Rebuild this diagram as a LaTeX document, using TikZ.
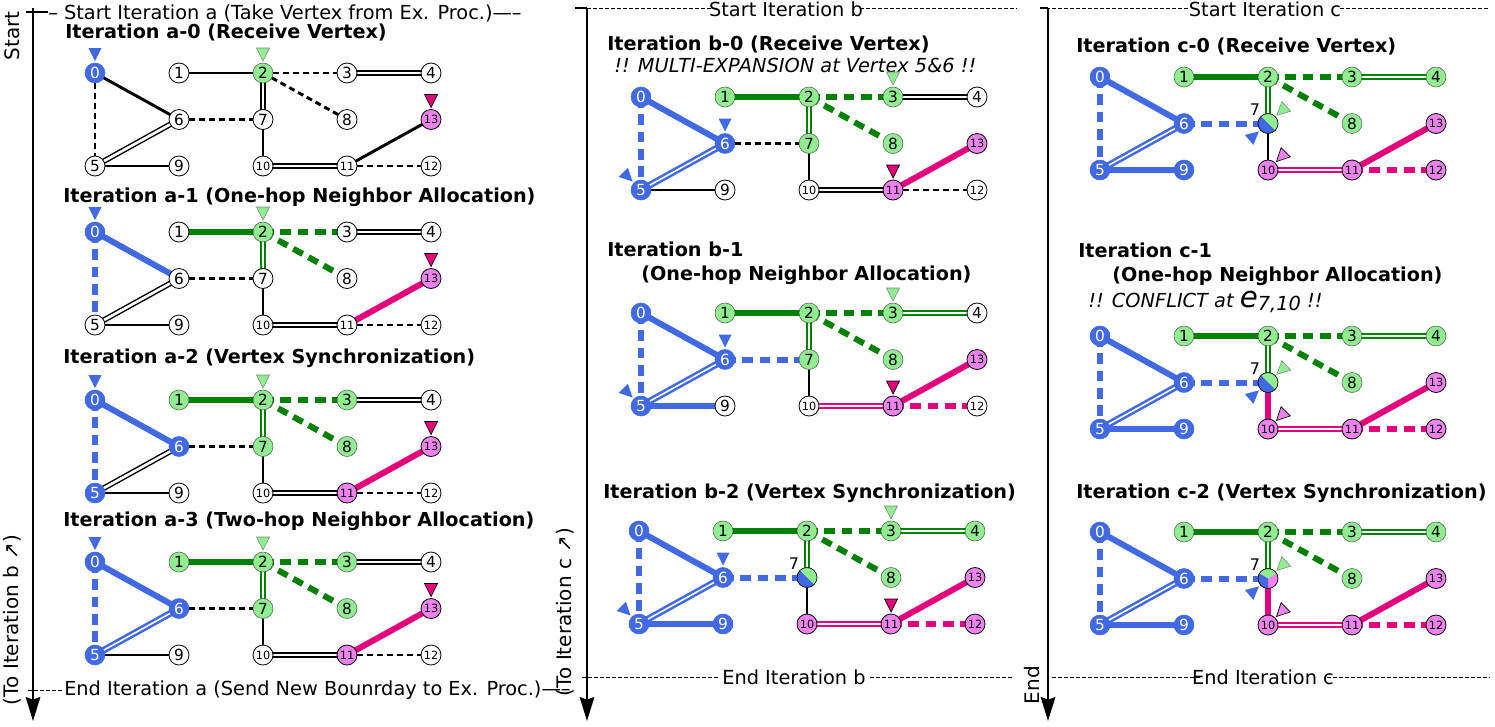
\documentclass[tikz,border=0pt]{standalone}
\usepackage{fontspec}
\setmainfont{DejaVu Sans}[Ligatures=NoCommon]
\usetikzlibrary{arrows.meta}
\pgfdeclarelayer{bg}
\pgfsetlayers{bg,main}
\definecolor{cblue}{RGB}{65,105,225}
\definecolor{lgreen}{RGB}{144,238,144}
\definecolor{dgreen}{RGB}{0,128,0}
\definecolor{cviolet}{RGB}{238,130,238}
\definecolor{cmag}{RGB}{228,0,124}
\newcommand\lab[1]{\ifnum#1>9 {\fontsize{8.5}{8.5}\selectfont#1}\else#1\fi}
\tikzset{
 vbase/.style={circle,minimum size=15pt,inner sep=0pt,font=\fontsize{11.5}{11.5}\selectfont},
 vw/.style={vbase,draw=black,line width=0.6pt,fill=white},
 vb/.style={vbase,draw=cblue,fill=cblue,text=white},
 vg/.style={vbase,draw=gray!70!black,line width=0.4pt,fill=lgreen},
 vp/.style={vbase,draw=black,line width=0.6pt,fill=cviolet},
 lbl7/.style={font=\fontsize{12}{12}\selectfont,inner sep=1pt},
 vs/.style={vbase,draw=black,line width=0.5pt,text opacity=0,label={[lbl7,label distance=-1pt]135:7},
   path picture={\fill[lgreen] (path picture bounding box.south west) rectangle (path picture bounding box.north east);
   \fill[cblue] (path picture bounding box.north west) -- (path picture bounding box.south east) -- (path picture bounding box.south west) -- cycle;}},
 vt/.style={vbase,draw=black,line width=0.5pt,text opacity=0,label={[lbl7,label distance=-1pt]135:7},
   path picture={\fill[cviolet] (path picture bounding box.south west) rectangle (path picture bounding box.north east);
   \fill[lgreen] (path picture bounding box.center) -- +(30:1cm) -- +(90:1.5cm) -- +(150:1cm) -- cycle;
   \fill[cblue] (path picture bounding box.center) -- +(150:1cm) -- +(210:1.5cm) -- +(270:1cm) -- cycle;}},
 kS/.style={draw=black,line width=2.2pt},
 kD/.style={kS,dash pattern=on 4.5pt off 3pt},
 kW/.style={draw=black,line width=1.1pt,double=white,double distance=2pt},
 BS/.style={draw=cblue,line width=4.5pt},
 BD/.style={BS,dash pattern=on 8pt off 5pt},
 BW/.style={draw=cblue,line width=1.9pt,double=white,double distance=1.2pt},
 GS/.style={draw=dgreen,line width=4.5pt},
 GD/.style={GS,dash pattern=on 8pt off 5pt},
 GW/.style={draw=dgreen,line width=1.9pt,double=white,double distance=1.2pt},
 PS/.style={draw=cmag,line width=4.5pt},
 PD/.style={PS,dash pattern=on 8pt off 5pt},
 PW/.style={draw=cmag,line width=1.9pt,double=white,double distance=1.2pt},
 mB/.style={fill=cblue,draw=none},
 mG/.style={fill=lgreen,draw=gray,line width=0.4pt},
 mP/.style={fill=cmag,draw=black,line width=0.5pt},
 mV/.style={fill=cviolet,draw=black,line width=0.5pt},
 ttl/.style={anchor=west,inner sep=0pt,font=\fontsize{14.4}{16}\selectfont\bfseries},
 note/.style={anchor=west,inner sep=0pt,font=\fontsize{14.5}{16}\selectfont\itshape},
 frm/.style={inner sep=0pt,font=\fontsize{14.5}{16}\selectfont},
 rot/.style={rotate=90,inner sep=0pt,font=\fontsize{15}{16}\selectfont},
 dl/.style={draw=black,line width=0.6pt,dash pattern=on 3pt off 1.5pt},
 axis/.style={draw=black,line width=1.3pt,-{Stealth[length=18pt,width=11pt,inset=2pt]}}
}
\newcommand\panel[5]{%
 \begin{scope}[shift={(#2,#3)}]
 \foreach \i/\x/\y in {0/0/0,1/84/0,2/168/0,3/252/0,4/336/0,6/84/46.5,7/168/46.5,8/252/46.5,13/336/46.5,5/0/93,9/84/93,10/168/93,11/252/93,12/336/93}
   \coordinate (P\i) at (\x,\y);
 \foreach \i/\s in #4 { \node[\s] (#1-\i) at (P\i) {\lab{\i}}; }
 \begin{pgfonlayer}{bg}
 \foreach \a/\b/\s in #5 { \draw[\s] (#1-\a.center) -- (#1-\b.center); }
 \end{pgfonlayer}
 \end{scope}}
\newcommand\mk[3]{\begin{scope}[shift={(#2.center)},rotate=#3]
 \filldraw[#1] (0,-12) -- (-6.5,-25) -- (6.5,-25) -- cycle; \end{scope}}
\def\Na{0/vb,1/vw,2/vg,3/vw,4/vw,5/vw,6/vw,7/vw,8/vw,9/vw,10/vw,11/vw,12/vw,13/vp}
\def\Nb{0/vb,1/vg,2/vg,3/vg,4/vw,5/vb,6/vb,7/vg,8/vg,9/vw,10/vw,11/vp,12/vw,13/vp}
\def\Nc{0/vb,1/vg,2/vg,3/vg,4/vg,5/vb,6/vb,7/vs,8/vg,9/vb,10/vp,11/vp,12/vp,13/vp}
\def\Nd{0/vb,1/vg,2/vg,3/vg,4/vg,5/vb,6/vb,7/vt,8/vg,9/vb,10/vp,11/vp,12/vp,13/vp}
\def\Ea{0/6/kS,0/5/kD,5/6/kW,5/9/kS,1/2/kS,2/3/kD,3/4/kW,2/7/kW,2/8/kD,6/7/kD,7/10/kS,10/11/kW,11/13/kS,11/12/kD}
\def\Eb{0/6/BS,0/5/BD,5/6/kW,5/9/kS,1/2/GS,2/3/GD,3/4/kW,2/7/GW,2/8/GD,6/7/kD,7/10/kS,10/11/kW,11/13/PS,11/12/kD}
\def\Ec{0/6/BS,0/5/BD,5/6/BW,5/9/kS,1/2/GS,2/3/GD,3/4/kW,2/7/GW,2/8/GD,6/7/kD,7/10/kS,10/11/kW,11/13/PS,11/12/kD}
\def\Ed{0/6/BS,0/5/BD,5/6/BW,5/9/BS,1/2/GS,2/3/GD,3/4/GW,2/7/GW,2/8/GD,6/7/BD,7/10/kS,10/11/PW,11/13/PS,11/12/PD}
\def\Ee{0/6/BS,0/5/BD,5/6/BW,5/9/BS,1/2/GS,2/3/GD,3/4/GW,2/7/GW,2/8/GD,6/7/BD,7/10/PS,10/11/PW,11/13/PS,11/12/PD}
\newcommand\amarks[1]{\mk{mB}{#1-0}{0}\mk{mG}{#1-2}{0}\mk{mP}{#1-13}{0}}
\newcommand\bmarks[1]{\mk{mB}{#1-6}{0}\mk{mB}{#1-5}{45}\mk{mG}{#1-3}{0}\mk{mP}{#1-11}{0}}
\newcommand\cmarks[1]{\mk{mG}{#1-7}{-47}\mk{mB}{#1-7}{131}\mk{mV}{#1-10}{-45}}
\begin{document}
\begin{tikzpicture}[x=0.75pt,y=-0.75pt]
\useasboundingbox (0,0) rectangle (1495,726);
% frames
\coordinate (aT) at (33,8); \coordinate (aB) at (33,721);
\coordinate (bT) at (587,8); \coordinate (bB) at (587,721);
\coordinate (cT) at (1048,8); \coordinate (cB) at (1048,721);
\draw[axis] (aT) -- (aB);
\draw[axis] (bT) -- (bB);
\draw[axis] (cT) -- (cB);
\coordinate (aT1) at (26,12); \coordinate (aT2) at (48,12);
\draw[line width=0.8pt] (aT1) -- (aT2);
\node[frm,anchor=west] (sa) at (48,13) {-- Start Iteration a (Take Vertex from Ex. Proc.)-----};
\coordinate (aE1) at (28,690); \coordinate (aE2) at (62,690);
\draw[dl] (aE1) -- (aE2);
\node[frm,anchor=west] (ea) at (64,690) {End Iteration a (Send New Bounrday to Ex. Proc.)-----};
\node[rot] (st) at (12,36) {Start};
\node[rot] (tob) at (12,620) {(To Iteration b ↗)};
% b frame
\coordinate (bT1) at (575,8); \coordinate (bT2) at (712,8); \coordinate (bT3) at (860,8); \coordinate (bT4) at (1017,8);
\draw[dl] (bT1) -- (bT2); \draw[dl] (bT3) -- (bT4);
\draw[line width=0.8pt] (bT1) -- (bT);
\node[frm] (sb) at (786,9) {Start Iteration b};
\coordinate (bE1) at (582,677); \coordinate (bE2) at (718,677); \coordinate (bE3) at (870,677); \coordinate (bE4) at (1012,677);
\draw[dl] (bE1) -- (bE2); \draw[dl] (bE3) -- (bE4);
\node[frm] (eb) at (794,677) {End Iteration b};
\node[rot] (toc) at (565,612) {(To Iteration c ↗)};
% c frame
\coordinate (cT1) at (1040,8); \coordinate (cT2) at (1190,8); \coordinate (cT3) at (1340,8); \coordinate (cT4) at (1490,8);
\draw[dl] (cT1) -- (cT2); \draw[dl] (cT3) -- (cT4);
\draw[line width=0.8pt] (cT1) -- (cT);
\node[frm] (sc) at (1265,9) {Start Iteration c};
\coordinate (cE1) at (1052,677); \coordinate (cE2) at (1200,677); \coordinate (cE3) at (1327,677); \coordinate (cE4) at (1490,677);
\draw[dl] (cE1) -- (cE2); \draw[dl] (cE3) -- (cE4);
\node[frm] (ec) at (1263,677) {End Iteration c};
\node[rot] (en) at (1032,685) {End};
% titles
\node[ttl] (ta0) at (65,32) {Iteration a-0 (Receive Vertex)};
\node[ttl] (ta1) at (63,197) {Iteration a-1 (One-hop Neighbor Allocation)};
\node[ttl] (ta2) at (63,358) {Iteration a-2 (Vertex Synchronization)};
\node[ttl] (ta3) at (63,521) {Iteration a-3 (Two-hop Neighbor Allocation)};
\node[ttl] (tb0) at (607,44) {Iteration b-0 (Receive Vertex)};
\node[note] (nb0) at (614,65) {!! MULTI-EXPANSION at Vertex 5\&6 !!};
\node[ttl] (tb1) at (607,249) {Iteration b-1};
\node[ttl] (tb1b) at (641,275) {(One-hop Neighbor Allocation)};
\node[ttl] (tb2) at (603,493) {Iteration b-2 (Vertex Synchronization)};
\node[ttl] (tc0) at (1076,46) {Iteration c-0 (Receive Vertex)};
\node[ttl] (tc1) at (1078,250) {Iteration c-1};
\node[ttl] (tc1b) at (1112,276) {(One-hop Neighbor Allocation)};
\node[note] (nc1) at (1088,302) {!! CONFLICT at {\fontsize{22}{22}\selectfont e}\raisebox{-2pt}{7,10} !!};
\node[ttl] (tc2) at (1076,493) {Iteration c-2 (Vertex Synchronization)};
% panels
\panel{a0}{95}{73}{\Na}{\Ea} \amarks{a0}
\panel{a1}{95}{232}{\Na}{\Eb} \amarks{a1}
\panel{a2}{95}{400}{\Nb}{\Eb} \amarks{a2}
\panel{a3}{95}{562}{\Nb}{\Ec} \amarks{a3}
\panel{b0}{641}{97}{\Nb}{\Ec} \bmarks{b0}
\panel{b1}{641}{313}{\Nb}{\Ed} \bmarks{b1}
\panel{b2}{639}{531}{\Nc}{\Ed} \bmarks{b2}
\panel{c0}{1100}{77}{\Nc}{\Ed} \cmarks{c0}
\panel{c1}{1100}{336}{\Nc}{\Ee} \cmarks{c1}
\panel{c2}{1100}{532}{\Nd}{\Ee} \cmarks{c2}
\end{tikzpicture}
\end{document}
